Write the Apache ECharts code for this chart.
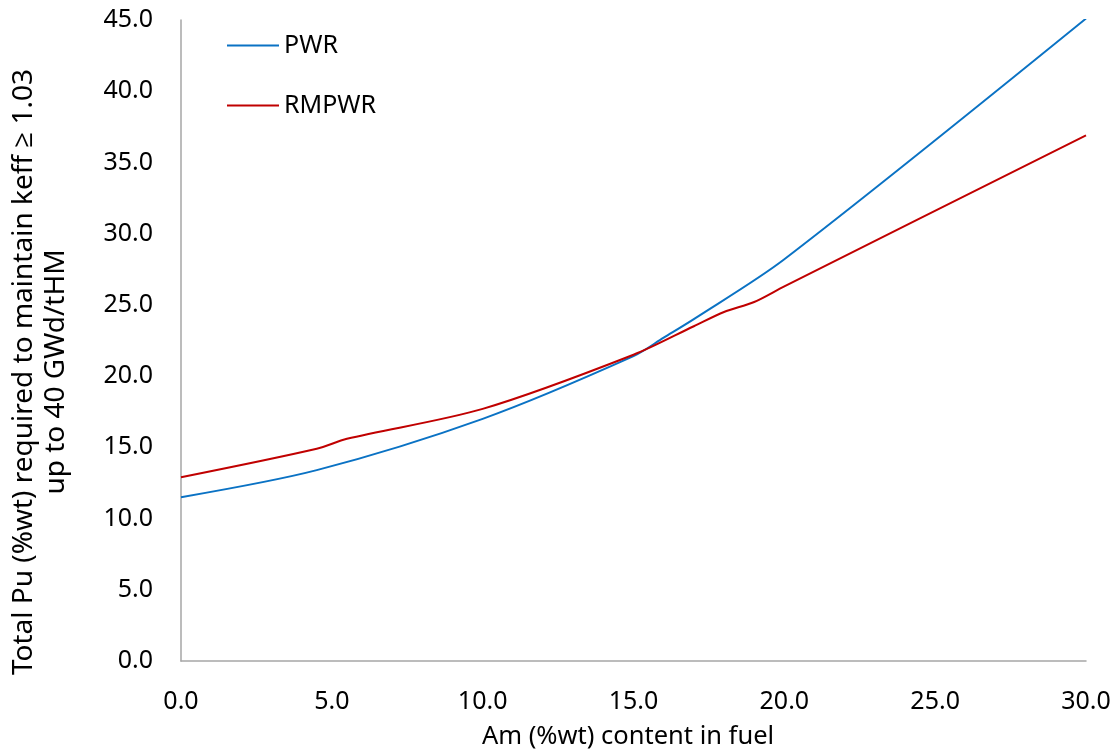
<!DOCTYPE html>
<html>
<head>
<meta charset="utf-8">
<script src="https://cdn.jsdelivr.net/npm/echarts@6/dist/echarts.min.js"></script>
<style>
  html, body { margin: 0; padding: 0; background: #fff; }
  #chart { width: 1119px; height: 752px; }
</style>
</head>
<body>
<div id="chart"></div>
<script>
// Am content (%wt) and total Pu (%wt) needed, per reactor type
const pwrAm = [0, 4.5, 10, 15, 16, 17, 20, 30];
const pwrPu = [11.5, 13.4, 17.0, 21.4, 22.7, 24.0, 28.2, 45.1];
const rmpwrAm = [0, 4.5, 5.5, 10, 15, 17, 18, 19, 20, 30];
const rmpwrPu = [12.9, 14.9, 15.6, 17.7, 21.5, 23.5, 24.5, 25.2, 26.3, 36.9];

const seriesNames = ['PWR', 'RMPWR'];
const xTitle = 'Am (%wt) content in fuel';
const yTitleLines = ['Total Pu (%wt) required to maintain keff \u2265 1.03', 'up to 40 GWd/tHM'];

const pairs = (xs, ys) => xs.map((x, i) => [x, ys[i]]);

const FONT = '"Noto Sans", "Open Sans", sans-serif';
const TEXT = '#000000';
const AXIS = '#A6A6A6';

const chart = echarts.init(document.getElementById('chart'), null, { renderer: 'canvas' });

chart.setOption({
  backgroundColor: '#ffffff',
  animation: false,
  textStyle: { fontFamily: FONT },
  grid: { left: 181, right: 33, top: 20, bottom: 91, containLabel: false },
  legend: {
    data: seriesNames,
    orient: 'vertical',
    left: 222,
    top: 28,
    itemWidth: 52,
    itemHeight: 2,
    itemGap: 35,
    icon: 'rect',
    textStyle: { fontFamily: FONT, fontSize: 25, color: TEXT }
  },
  xAxis: {
    type: 'value',
    min: 0, max: 30, interval: 5,
    axisLine: { show: true, lineStyle: { color: AXIS, width: 1.5 } },
    axisTick: { show: false },
    splitLine: { show: false },
    axisLabel: {
      fontFamily: FONT, fontSize: 25, color: TEXT, margin: 28,
      formatter: v => v.toFixed(1)
    }
  },
  yAxis: {
    type: 'value',
    min: 0, max: 45, interval: 5,
    axisLine: { show: true, lineStyle: { color: AXIS, width: 1.5 } },
    axisTick: { show: false },
    splitLine: { show: false },
    axisLabel: {
      fontFamily: FONT, fontSize: 25, color: TEXT, margin: 28,
      formatter: v => v.toFixed(1)
    }
  },
  graphic: [
    {
      type: 'text', x: 24, y: 372, rotation: Math.PI / 2,
      style: { text: yTitleLines[0], fontFamily: FONT, fontSize: 28, fill: TEXT, align: 'center', verticalAlign: 'middle' }
    },
    {
      type: 'text', x: 56, y: 372, rotation: Math.PI / 2,
      style: { text: yTitleLines[1], fontFamily: FONT, fontSize: 28, fill: TEXT, align: 'center', verticalAlign: 'middle' }
    },
    {
      type: 'text', x: 628, y: 737,
      style: { text: xTitle, fontFamily: FONT, fontSize: 25.5, fill: TEXT, align: 'center', verticalAlign: 'middle' }
    }
  ],
  series: [
    {
      name: seriesNames[0], type: 'line', data: pairs(pwrAm, pwrPu),
      smooth: 0.3, symbol: 'none', color: '#0A72C4',
      lineStyle: { width: 2, color: '#0A72C4' }
    },
    {
      name: seriesNames[1], type: 'line', data: pairs(rmpwrAm, rmpwrPu),
      smooth: 0.3, symbol: 'none', color: '#C00000',
      lineStyle: { width: 2, color: '#C00000' }
    }
  ]
});
</script>
</body>
</html>
